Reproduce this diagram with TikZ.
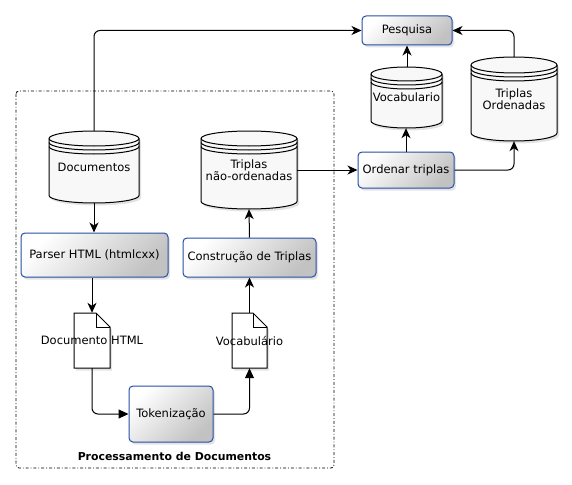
\documentclass[tikz,border=0pt]{standalone}
\usepackage{fontspec}
\setmainfont{DejaVu Sans}
\usetikzlibrary{arrows.meta,shadows}
\definecolor{bborder}{RGB}{38,78,168}
\definecolor{cylfillc}{RGB}{248,248,248}
\newcommand\cylshape[5]{% cx, ytop, ybot, rx, ry
  \path[cylbody] (#1-#4,#2+#5) -- (#1-#4,#3-#5)
     arc[start angle=180,end angle=0,x radius=#4,y radius=#5]
     -- (#1+#4,#2+#5)
     arc[start angle=0,end angle=-180,x radius=#4,y radius=#5] -- cycle;
  \draw[cylline] (#1-#4,#2+#5) arc[start angle=180,end angle=0,x radius=#4,y radius=#5];
  \draw[cylline] (#1-#4,#2+#5+4) arc[start angle=180,end angle=0,x radius=#4,y radius=#5];
  \draw[cylline] (#1-#4,#2+#5+8) arc[start angle=180,end angle=0,x radius=#4,y radius=#5];
}
\newcommand\pageshape[4]{% x1, y1, x2, y2
  \path[pagebody] (#1,#2) -- (#3-14,#2) -- (#3,#2+14) -- (#3,#4) -- (#1,#4) -- cycle;
  \draw[cylline] (#3-14,#2) -- (#3-14,#2+14) -- (#3,#2+14);
}
\begin{document}
\begin{tikzpicture}[x=1pt,y=-1pt,
  font=\fontsize{11.5}{13.5}\selectfont,
  shadowed/.style={drop shadow={opacity=0.22,shadow xshift=2pt,shadow yshift=-2.5pt}},
  procbox/.style={draw=bborder,line width=1pt,rounded corners=4pt,
     top color=white,bottom color=black!24,shading angle=45,shadowed,
     inner sep=0pt,align=center},
  cylbody/.style={draw=black,line width=1pt,fill=cylfillc,shadowed},
  cylline/.style={draw=black,line width=1pt},
  pagebody/.style={draw=black,line width=1pt,fill=white,shadowed},
  lbl/.style={draw=none,inner sep=0pt,align=center},
  conn/.style={draw=black,line width=1pt,rounded corners=6pt},
  sarr/.style={-{Stealth[length=10pt,width=9pt,inset=3pt]}},
  tarr/.style={-{Triangle[length=10pt,width=9pt]}},
  container/.style={draw=black,line width=0.8pt,dash dot,rounded corners=3pt}
]
\useasboundingbox (0,0) rectangle (572,484);

% container
\draw[container] (16,91) rectangle (334,468);
\node[lbl,font=\fontsize{10.9}{13}\selectfont\bfseries] (proclabel) at (174.5,456) {Processamento de Documentos};

% cylinders
\cylshape{94}{131}{203}{45}{7.5}
\node[lbl,minimum width=90pt,minimum height=72pt] (docs) at (94,167) {Documentos};

\cylshape{249}{131}{209}{48}{7.5}
\node[lbl,minimum width=96pt,minimum height=78pt] (tnord) at (249,170) {Triplas\\[-1pt]não-ordenadas};

\cylshape{406.5}{67}{128}{35.5}{7}
\node[lbl,minimum width=71pt,minimum height=61pt] (vocab) at (406.5,97.5) {Vocabulario};

\cylshape{514}{57}{141}{43}{8}
\node[lbl,minimum width=86pt,minimum height=84pt] (tord) at (514,99) {Triplas\\[-1pt]Ordenadas};

% pages
\pageshape{74}{313}{110}{368}
\node[lbl,minimum height=55pt] (dochtml) at (92,340.5) {Documento HTML};
\pageshape{232}{313}{267}{368}
\node[lbl,minimum height=55pt] (vocpage) at (249.5,340.5) {Vocabulário};

% process boxes
\node[procbox,minimum width=147pt,minimum height=44pt] (parser) at (94.5,255) {Parser HTML (htmlcxx)};
\node[procbox,minimum width=133pt,minimum height=39pt] (constr) at (249.5,257.5) {Construção de Triplas};
\node[procbox,minimum width=84pt,minimum height=56pt] (tok) at (171,414) {Tokenização};
\node[procbox,minimum width=90pt,minimum height=29pt] (pesq) at (407,30.5) {Pesquisa};
\node[procbox,minimum width=96pt,minimum height=36pt] (ord) at (406,170) {Ordenar triplas};

% connectors
\draw[conn,sarr] (docs.north) |- (pesq.west);
\draw[conn,sarr] (docs.south) -- (docs.south |- parser.north);
\draw[conn,sarr] (dochtml.north |- parser.south) -- (dochtml.north);
\draw[conn,tarr] (dochtml.south) |- (tok.west);
\draw[conn,tarr] (tok.east) -| (vocpage.south);
\draw[conn,sarr] (vocpage.north) -- (constr.south);
\draw[conn,sarr] (constr.north) -- (tnord.south);
\draw[conn,sarr] (tnord.east) -- (ord.west);
\draw[conn,sarr] (ord.north) -- (ord.north |- vocab.south);
\draw[conn,sarr] (vocab.north -| pesq.south) -- (pesq.south);
\draw[conn,sarr] (ord.east) -| (tord.south);
\draw[conn,sarr] (tord.north) |- (pesq.east);
\end{tikzpicture}
\end{document}
